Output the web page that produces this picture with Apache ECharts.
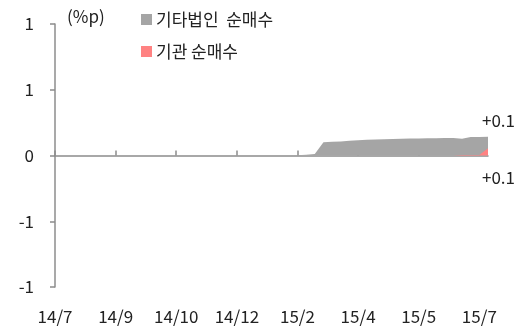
<!DOCTYPE html>
<html>
<head>
<meta charset="utf-8">
<script src="https://cdn.jsdelivr.net/npm/echarts@6/dist/echarts.min.js"></script>
<style>
  html, body { margin: 0; padding: 0; background: #fff; }
  #chart { width: 528px; height: 329px; }
</style>
</head>
<body>
<div id="chart"></div>
<script>
// Weekly net buying share (%p), July 2014 – July 2015
const tickLabels = ['14/7', '14/9', '14/10', '14/12', '15/2', '15/4', '15/5', '15/7'];
const weeksPerTick = 7;

const otherCorpNet = [
  0, 0, 0, 0, 0, 0, 0, 0, 0, 0,
  0, 0, 0, 0, 0, 0, 0, 0, 0, 0,
  0, 0, 0, 0, 0, 0, 0, 0, 0.002, 0.005,
  0.012, 0.101, 0.104, 0.106, 0.112, 0.116, 0.119, 0.121, 0.123, 0.126,
  0.127, 0.129, 0.130, 0.131, 0.132, 0.133, 0.133, 0.127, 0.140, 0.141,
  0.142
];

const institutionNet = [
  0, 0, 0, 0, 0, 0, 0, 0, 0, 0,
  0, 0, 0, 0, 0, 0, 0, 0, 0, 0,
  0, 0, 0, 0, 0, 0, 0, 0, 0, 0,
  0, 0, 0, 0, 0, 0, 0, 0, 0, 0,
  0, 0, 0, 0, 0, 0, 0, 0.003, 0.003, 0.003,
  0.055
];

const seriesNames = ['기타법인  순매수', '기관 순매수'];
const colors = ['#a5a5a5', '#ff8282'];

const weeks = otherCorpNet.map((_, i) => 'W' + i);
const FONT = '"Noto Sans CJK KR", "Noto Sans", sans-serif';
const axisColor = '#8c8c8c';

function signed(v) {
  return (v >= 0 ? '+' : '') + v.toFixed(1);
}

// value label placed at the end of a series
function endLabel(offset) {
  return {
    show: true,
    formatter: p => signed(Array.isArray(p.value) ? p.value[1] : p.value),
    fontFamily: FONT, fontSize: 17, color: '#222',
    distance: 0,
    offset: offset
  };
}

function roundHalfAway(v) {
  const r = Math.round(Math.abs(v)) * Math.sign(v);
  return r === 0 ? 0 : r;
}

const chart = echarts.init(document.getElementById('chart'), null, { renderer: 'canvas' });
chart.setOption({
  animation: false,
  backgroundColor: '#fff',
  grid: { left: 55, right: 40, top: 24, bottom: 42 },
  legend: {
    orient: 'vertical',
    left: 136, top: 6,
    itemWidth: 11, itemHeight: 11, itemGap: 15,
    icon: 'rect',
    textStyle: { fontFamily: FONT, fontSize: 17, color: '#222', padding: [0, 0, 0, -1] },
    data: seriesNames
  },
  graphic: [{
    type: 'text', left: 67, top: 8,
    style: { text: '(%p)', font: '17px ' + FONT, fill: '#222' }
  }],
  xAxis: [{
    type: 'category',
    data: weeks,
    boundaryGap: false,
    position: 'bottom',
    axisLine: { show: false, onZero: false },
    axisTick: { show: false },
    axisLabel: {
      interval: weeksPerTick - 1,
      margin: 21,
      fontFamily: FONT, fontSize: 17, color: '#222',
      formatter: (v, i) => tickLabels[i / weeksPerTick] || ''
    }
  }, {
    type: 'category',
    data: weeks,
    boundaryGap: false,
    axisLine: { show: true, onZero: true, lineStyle: { color: axisColor, width: 1.5 } },
    axisTick: { show: true, interval: weeksPerTick - 1, length: 5, lineStyle: { color: axisColor, width: 1.5 } },
    axisLabel: { show: false }
  }],
  yAxis: {
    type: 'value',
    min: -1, max: 1, interval: 0.5,
    splitLine: { show: false },
    axisLine: { show: true, onZero: false, lineStyle: { color: axisColor, width: 1.5 } },
    axisTick: { show: true, length: 5, lineStyle: { color: axisColor, width: 1.5 } },
    axisLabel: {
      margin: 21,
      fontFamily: FONT, fontSize: 17, color: '#222',
      formatter: v => String(roundHalfAway(v))
    }
  },
  series: [{
    name: seriesNames[0],
    type: 'line',
    xAxisIndex: 0,
    data: otherCorpNet,
    showSymbol: false,
    lineStyle: { width: 0 },
    areaStyle: { color: colors[0], opacity: 1 },
    itemStyle: { color: colors[0] },
    endLabel: endLabel([-6, -16]),
    z: 1
  }, {
    name: seriesNames[1],
    type: 'line',
    xAxisIndex: 0,
    data: institutionNet,
    showSymbol: false,
    lineStyle: { width: 0 },
    areaStyle: { color: colors[1], opacity: 1 },
    itemStyle: { color: colors[1] },
    endLabel: endLabel([-6, 29]),
    z: 2
  }]
});
</script>
</body>
</html>
